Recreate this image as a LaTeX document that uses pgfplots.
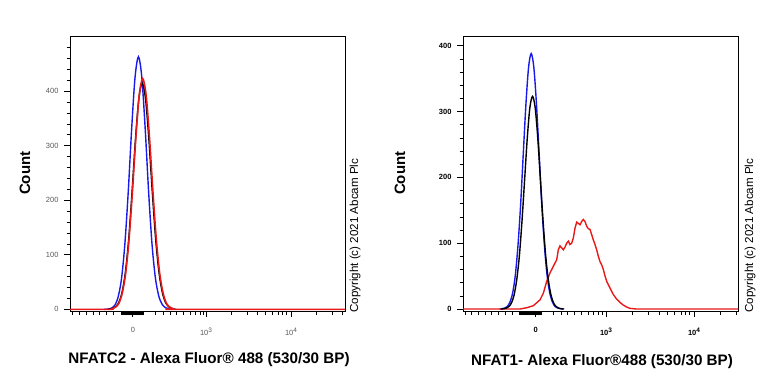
\documentclass[border=0pt]{standalone}
\usepackage{pgfplots}
\pgfplotsset{compat=1.18}
\usepackage{fontspec}
\setmainfont{Liberation Sans}
\definecolor{fblue}{RGB}{25,25,235}
\definecolor{fred}{RGB}{232,25,25}
\newcommand{\tsup}[1]{\raisebox{3.2pt}{\fontsize{6.5}{7}\selectfont #1}}
\pgfplotsset{flowaxis/.style={
  scale only axis, width=275pt, height=275pt,
  ymin=-3,
  axis line style={line width=0.6pt},
  tick align=outside,
  xtick pos=bottom, ytick pos=left,
  ytick={0,100,200,300,400},
  major tick length=6pt, minor tick length=3.5pt,
  every tick/.style={black, line width=0.6pt},
  every major tick/.append style={line width=1pt},
  tick label style={font=\fontsize{7.5}{8}\selectfont},
  /pgf/number format/assume math mode=true,
  xticklabel style={yshift=-7pt},
  yticklabel style={xshift=-2pt},
  extra x tick labels={},
  extra x tick style={major tick length=4pt, tick style={line width=0.9pt}},
  xticklabels={0,10\tsup{3},10\tsup{4}},
}}
\begin{document}
\begin{tikzpicture}[x=1pt,y=1pt]
\useasboundingbox (0pt,0pt) rectangle (768pt,384pt);
% ---------------- left panel
\begin{axis}[flowaxis, at={(70pt,73pt)}, anchor=south west,
  xmin=1.4, xmax=4.635, ymax=501,
  minor ytick={20,40,60,80,120,140,160,180,220,240,260,280,320,340,360,380,420,440,460,480},
  xtick={2.14,3,4},
  minor xtick={1.43,1.51,1.59,1.67,1.75,1.83,1.91,2.40,2.50,2.58,2.65,2.73,2.81,2.87,2.93,2.97,3.30,3.48,3.60,3.70,3.78,3.85,3.90,3.95,4.30,4.48,4.60},
  extra x ticks={2.00,2.01,2.02,2.03,2.04,2.05,2.06,2.07,2.08,2.09,2.10,2.11,2.12,2.13,2.15,2.16,2.17,2.18,2.19,2.20,2.21,2.22,2.23,2.24,2.25,2.26,2.27},
  tick label style={color=black!65},
]
\addplot[fblue, line width=1.4pt, smooth] coordinates {
(1.80,0)(1.845,0.5)(1.885,2)(1.925,7)(1.965,22)(2.005,55)(2.045,119)(2.085,215)(2.125,330)(2.165,425)(2.205,463)(2.245,425)(2.285,330)(2.325,215)(2.365,119)(2.405,57)(2.445,24)(2.485,9)(2.525,3)(2.565,1)(2.60,0)};
\addplot[black, line width=1.4pt, smooth] coordinates {
(1.85,0)(1.889,1)(1.929,4)(1.969,11)(2.009,29)(2.049,65)(2.089,126)(2.129,213)(2.169,309)(2.209,385)(2.249,415)(2.289,385)(2.329,309)(2.369,213)(2.409,126)(2.449,65)(2.489,29)(2.529,11)(2.569,4)(2.609,1)(2.65,0)};
\addplot[fred, line width=1.6pt, smooth] coordinates {
(1.4,0)(1.86,0)(1.895,1)(1.935,4)(1.975,11)(2.015,30)(2.055,66)(2.095,129)(2.135,217)(2.175,315)(2.215,393)(2.255,423)(2.295,393)(2.335,315)(2.375,217)(2.415,129)(2.455,66)(2.495,30)(2.535,11)(2.575,4)(2.615,1)(2.655,0)(4.635,0)};
\end{axis}
% ---------------- right panel
\begin{axis}[flowaxis, at={(463pt,73pt)}, anchor=south west,
  xmin=1.375, xmax=4.5, ymax=414.7,
  minor ytick={20,40,60,80,120,140,160,180,220,240,260,280,320,340,360,380},
  xtick={2.2,3,4},
  minor xtick={1.40,1.474,1.55,1.626,1.70,1.78,1.853,1.93,2.40,2.49,2.56,2.64,2.72,2.80,2.856,2.91,2.96,3.30,3.48,3.60,3.70,3.78,3.85,3.90,3.95,4.30,4.48},
  extra x ticks={2.02,2.03,2.04,2.05,2.06,2.07,2.08,2.09,2.10,2.11,2.12,2.13,2.14,2.15,2.16,2.17,2.18,2.19,2.21,2.22,2.23,2.24,2.25,2.26,2.27},
  tick label style={font=\fontsize{7.5}{8}\selectfont\bfseries},
]
\addplot[fblue, line width=1.4pt, smooth] coordinates {
(1.79,0)(1.82,0.5)(1.85,1.5)(1.88,4)(1.91,11)(1.94,25)(1.97,52)(2.00,97)(2.03,159)(2.06,236)(2.09,311)(2.12,367)(2.15,388)(2.18,367)(2.21,311)(2.24,236)(2.27,159)(2.30,97)(2.33,52)(2.36,25)(2.39,11)(2.42,4)(2.45,1.5)(2.48,0.5)(2.51,0)};
\addplot[fred, line width=1.4pt] coordinates {
(1.375,0)(2.023,0)(2.099,2)(2.174,5)(2.25,14)(2.288,24)(2.326,42)(2.364,55)(2.402,65)(2.44,75)(2.458,90)(2.477,96)(2.496,93)(2.515,90)(2.534,94)(2.553,100)(2.572,103)(2.591,98)(2.61,100)(2.629,108)(2.648,123)(2.667,132)(2.686,130)(2.705,128)(2.724,133)(2.742,136)(2.761,133)(2.78,126)(2.799,122)(2.818,121)(2.837,113)(2.856,105)(2.875,98)(2.894,90)(2.913,80)(2.932,72)(2.951,67)(2.97,60)(2.989,50)(3.008,42)(3.045,32)(3.083,22)(3.121,15)(3.159,10)(3.197,6)(3.235,3)(3.273,1)(3.348,0)(4.5,0)};
\addplot[black, line width=1.4pt, smooth] coordinates {
(1.805,0)(1.835,0.4)(1.865,1.3)(1.895,3.6)(1.925,9)(1.955,21)(1.985,44)(2.015,80)(2.045,133)(2.075,196)(2.105,259)(2.135,306)(2.165,323)(2.195,306)(2.225,259)(2.255,196)(2.285,133)(2.315,80)(2.345,44)(2.375,21)(2.405,9)(2.435,3.6)(2.465,1.3)(2.495,0.4)(2.525,0)};
\end{axis}
% ---------------- labels
\node[rotate=90, font=\fontsize{15}{17}\selectfont\bfseries] at (25pt,210.7pt) {Count};
\node[rotate=90, font=\fontsize{15}{17}\selectfont\bfseries] at (400pt,210.7pt) {Count};
\node[font=\fontsize{15.2}{17}\selectfont\bfseries] at (209pt,24pt) {NFATC2 - Alexa Fluor® 488 (530/30 BP)};
\node[font=\fontsize{15.2}{17}\selectfont\bfseries] at (602pt,22pt) {NFAT1- Alexa Fluor®488 (530/30 BP)};
\node[rotate=90, anchor=west, inner sep=0pt, font=\fontsize{11.6}{13}\selectfont] at (355pt,71pt) {Copyright (c) 2021 Abcam Plc};
\node[rotate=90, anchor=west, inner sep=0pt, font=\fontsize{11.6}{13}\selectfont] at (750pt,71pt) {Copyright (c) 2021 Abcam Plc};
\end{tikzpicture}
\end{document}
